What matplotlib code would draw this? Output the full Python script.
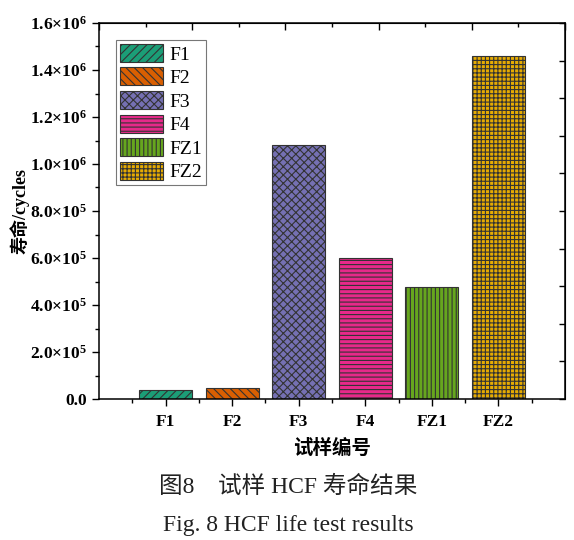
import matplotlib
matplotlib.use("Agg")
import matplotlib.pyplot as plt
from matplotlib.ticker import FixedLocator, MultipleLocator

categories = ["F1", "F2", "F3", "F4", "FZ1", "FZ2"]
life_cycles = [40000, 45000, 1080000, 600000, 477000, 1458000]
bar_colors = ["#1b9e77", "#d95f02", "#7570b3", "#e7298a", "#66a61e", "#e6ab02"]
bar_hatches = ["////", "\\\\\\\\", "xxxx", "----", "||||", "++++"]
ytick_values = [0, 2e5, 4e5, 6e5, 8e5, 1.0e6, 1.2e6, 1.4e6, 1.6e6]
ytick_labels = ["0.0", "2.0×10$^{5}$", "4.0×10$^{5}$", "6.0×10$^{5}$", "8.0×10$^{5}$",
                "1.0×10$^{6}$", "1.2×10$^{6}$", "1.4×10$^{6}$", "1.6×10$^{6}$"]

plt.rcParams["mathtext.fontset"] = "custom"
plt.rcParams["mathtext.rm"] = "Liberation Serif:bold"
plt.rcParams["mathtext.it"] = "Liberation Serif:bold"
plt.rcParams["mathtext.bf"] = "Liberation Serif:bold"
plt.rcParams["hatch.color"] = "black"
plt.rcParams["hatch.linewidth"] = 0.8

serif = ["Liberation Serif", "Noto Sans CJK SC"]

fig = plt.figure(figsize=(5.74, 5.4), dpi=100)
ax = fig.add_axes([99 / 574, 141 / 540, 466 / 574, 376 / 540])

x = list(range(1, len(categories) + 1))
for xi, v, c, h, lab in zip(x, life_cycles, bar_colors, bar_hatches, categories):
    ax.bar(xi, v, width=0.8, color=c, hatch=h, edgecolor="#333333",
           linewidth=0.8, label=lab)

ax.set_xlim(0, 7)
ax.set_ylim(0, 1.6e6)
ax.set_xticks(x)
ax.set_xticklabels(categories, fontfamily="Liberation Serif", fontweight="bold", fontsize=12.5)
ax.xaxis.set_minor_locator(FixedLocator([0.5 + i for i in range(7)]))
ax.set_yticks(ytick_values)
ax.set_yticklabels(ytick_labels, fontfamily="Liberation Serif", fontweight="bold", fontsize=12.5)
ax.yaxis.set_minor_locator(MultipleLocator(1e5))
ax.tick_params(axis="both", which="major", direction="out", length=5, width=1, colors="black")
ax.tick_params(axis="both", which="minor", direction="out", length=3, width=1)
ax.tick_params(axis="x", which="major", pad=6)

for s in ax.spines.values():
    s.set_linewidth(1.1)
    s.set_color("black")

# top and right decorative ticks (inward)
top = ax.secondary_xaxis("top")
top.set_xticks([1.4 * i for i in range(6)])
top.xaxis.set_minor_locator(FixedLocator([0.7 + 1.4 * i for i in range(5)]))
top.set_xticklabels([])
top.tick_params(which="major", direction="in", length=5, width=1)
top.tick_params(which="minor", direction="in", length=3, width=1)
right = ax.secondary_yaxis("right")
right.set_yticks([1.6e5 * i for i in range(11)])
right.set_yticklabels([])
right.tick_params(which="major", direction="in", length=4, width=1)
right.yaxis.set_minor_locator(FixedLocator([]))

ax.set_ylabel("寿命/cycles", family=serif, fontweight="bold", fontsize=13, labelpad=1)
ax.set_xlabel("试样编号", family=["Noto Sans CJK SC"], fontweight="bold", fontsize=14, labelpad=6)

leg = ax.legend(loc="upper left", bbox_to_anchor=(17 / 466, 1 - 17 / 376),
                prop={"family": "Liberation Serif", "size": 14},
                frameon=True, fancybox=False, edgecolor="#555555", handlelength=2.2, handleheight=1.05,
                handletextpad=0.35, labelspacing=0.2, borderpad=0.2, borderaxespad=0)
leg.get_frame().set_linewidth(0.8)

fig.text(288, 540 - 487, "图8　试样 HCF 寿命结果", transform=None, ha="center", va="center",
         family=serif, fontsize=17, color="#222222")
fig.text(288, 540 - 526, "Fig. 8 HCF life test results", transform=None, ha="center", va="center",
         family=serif, fontsize=17, color="#222222")

fig.savefig("out.png", dpi=100)
